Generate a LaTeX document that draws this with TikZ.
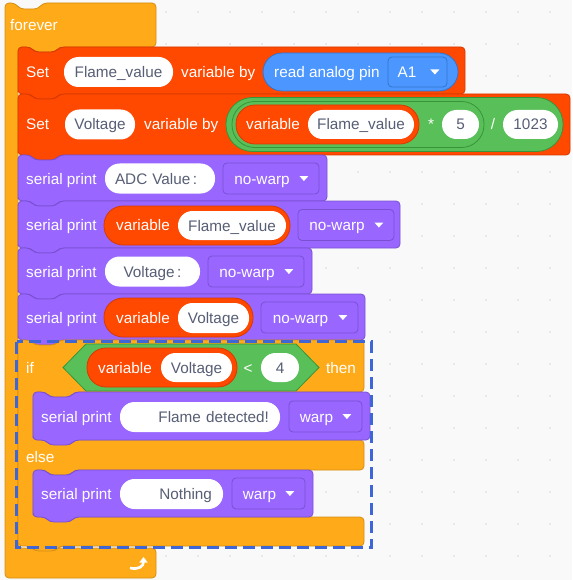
\documentclass[tikz,border=0pt]{standalone}
\usepackage{fontspec}
\setmainfont{Liberation Sans}
\usetikzlibrary{arrows.meta}
\definecolor{scbg}{RGB}{249,249,249}
\definecolor{scdot}{RGB}{218,218,218}
\definecolor{scctl}{RGB}{255,171,25}
\definecolor{scctlbd}{RGB}{214,142,20}
\definecolor{scvar}{RGB}{255,72,0}
\definecolor{scvarbd}{RGB}{214,58,0}
\definecolor{scpur}{RGB}{153,102,255}
\definecolor{scpurbd}{RGB}{122,80,210}
\definecolor{scgrn}{RGB}{89,192,89}
\definecolor{scgrnbd}{RGB}{56,148,56}
\definecolor{scblu}{RGB}{76,151,255}
\definecolor{scblubd}{RGB}{51,115,204}
\definecolor{sctxt}{RGB}{87,94,117}
\definecolor{scsel}{RGB}{62,102,214}
\tikzset{
  blk/.style={line width=0.8pt, rounded corners=4pt},
  ctlblk/.style={blk, fill=scctl, draw=scctlbd},
  varblk/.style={blk, fill=scvar, draw=scvarbd},
  spblk/.style={blk, fill=scpur, draw=scpurbd},
  lbl/.style={text=white, inner sep=0pt, anchor=west, text height=11pt, text depth=0pt},
  oplbl/.style={text=white, inner sep=0pt, text height=11pt, text depth=0pt},
  wpill/.style={fill=white, text=sctxt, inner sep=0pt, minimum height=30pt,
    rounded corners=14.5pt, text height=11pt, text depth=0pt},
  vpill/.style={fill=scvar, draw=scvarbd, line width=0.8pt, inner sep=0pt,
    minimum height=39pt, rounded corners=19pt},
  ddbox/.style={fill=scpur, draw=scpurbd, line width=0.8pt, rounded corners=4pt,
    text=white, inner sep=0pt, minimum height=31pt, text height=11pt, text depth=0pt},
  selbox/.style={draw=scsel, line width=3pt, dash pattern=on 12pt off 6pt}
}
% stack block: style, left, top, right, bottom
\newcommand{\stackblk}[5]{%
  \draw[#1] (#2,#5-6) -- (#2,#3) -- (#2+12,#3) -- (#2+17,#3+5) -- (#2+37,#3+5)
    -- (#2+42,#3) -- (#4,#3) -- (#4,#5) -- (#2+42,#5) -- (#2+37,#5+5)
    -- (#2+17,#5+5) -- (#2+12,#5) -- (#2,#5) -- cycle;}
% dropdown arrow
\newcommand{\ddtri}[2][20]{%
  \fill[white] ([xshift=-#1pt,yshift=2.5pt]#2.east) -- ++(9,0) -- ++(-4.5,5) -- cycle;}

\begin{document}
\begin{tikzpicture}[x=1pt,y=-1pt,font=\fontsize{15.3}{18}\selectfont]
  \fill[scbg] (0,0) rectangle (572,580);
  \useasboundingbox (0,0) rectangle (572,580);
  \foreach \i in {0,...,17}
    \foreach \j in {0,...,17}
      \fill[scdot] (6+32*\i,12+32*\j) circle (0.9pt);

  % forever
  \draw[ctlblk] (5,300) -- (5,3) -- (15,3) -- (20,9) -- (38,9) -- (43,3) -- (156,3)
    -- (156,47) -- (60,47) -- (55,52) -- (35,52) -- (30,47) -- (18,47) -- (18,548)
    -- (156,548) -- (156,578) -- (5,578) -- cycle;
  \node[lbl] (forever) at (10,25.5) {forever};
  \draw[white, line width=2.6pt, -{Triangle[length=5.5pt,width=8pt]}]
    (130,568) .. controls (139,570) and (143.5,566) .. (143.5,557);

  % set Flame_value
  \stackblk{varblk}{18}{47}{465}{94}
  \node[lbl] (set1) at (26,72) {Set};
  \node[wpill, minimum width=109pt] (fv1) at (118.5,72) {Flame\_value};
  \node[lbl] (by1) at (181,72) {variable by};
  \node[fill=scblu, draw=scblubd, line width=0.8pt, inner sep=0pt, minimum width=195pt,
    minimum height=38pt, rounded corners=19pt] (rdpin) at (360.5,72) {};
  \node[lbl] (rdtxt) at (274,72) {read analog pin};
  \node[ddbox, fill=scblu, draw=scblubd, minimum width=59pt, minimum height=30pt]
    (pin) at (417.5,72) {A1\hspace*{21pt}};
  \ddtri[17]{pin}

  % set Voltage
  \stackblk{varblk}{18}{94}{570}{155}
  \node[lbl] (set2) at (26,124.5) {Set};
  \node[wpill, minimum width=70pt] (volt1) at (100,124.5) {Voltage};
  \node[lbl] (by2) at (144,124.5) {variable by};
  \node[fill=scgrn, draw=scgrnbd, line width=0.8pt, inner sep=0pt, minimum width=337pt,
    minimum height=54pt, rounded corners=26.5pt] (opdiv) at (394.5,124.5) {};
  \node[fill=scgrn, draw=scgrnbd, line width=0.8pt, inner sep=0pt, minimum width=252pt,
    minimum height=46pt, rounded corners=22.5pt] (opmul) at (358,124.5) {};
  \node[vpill, minimum width=183pt] (var1) at (327.5,124.5) {};
  \node[lbl] (var1t) at (246,124.5) {variable};
  \node[wpill, minimum width=106pt, minimum height=29pt] (fv2) at (361,124.5) {Flame\_value};
  \node[oplbl] (mul) at (431,124.5) {*};
  \node[wpill, minimum width=37pt, minimum height=29pt] (five) at (460.5,124.5) {5};
  \node[oplbl] (div) at (493,124.5) {/};
  \node[wpill, minimum width=55pt, minimum height=29pt] (k1023) at (530.5,124.5) {1023};

  % serial prints
  \stackblk{spblk}{18}{155}{327}{201}
  \node[lbl] (sp1) at (26,178.5) {serial print};
  \node[wpill, minimum width=110pt, text width=90pt, align=left] (adc) at (160,178.5)
    {ADC Value\,:};
  \node[ddbox, minimum width=96pt] (dd1) at (271,178.5) {no-warp\hspace*{18pt}};
  \ddtri{dd1}

  \stackblk{spblk}{18}{201}{400}{248}
  \node[lbl] (sp2) at (26,225) {serial print};
  \node[vpill, minimum width=186pt] (var2) at (197,225.5) {};
  \node[lbl] (var2t) at (116,225) {variable};
  \node[wpill, minimum width=108pt, minimum height=29pt] (fv3) at (232,225.5) {Flame\_value};
  \node[ddbox, minimum width=96pt] (dd2) at (346,225) {no-warp\hspace*{18pt}};
  \ddtri{dd2}

  \stackblk{spblk}{18}{248}{312}{294}
  \node[lbl] (sp3) at (26,271.5) {serial print};
  \node[wpill, minimum width=95pt] (volt2) at (152.5,271.5) {Voltage\,:};
  \node[ddbox, minimum width=96pt] (dd3) at (256,271.5) {no-warp\hspace*{18pt}};
  \ddtri{dd3}

  \stackblk{spblk}{18}{294}{365}{340}
  \node[lbl] (sp4) at (26,317.5) {serial print};
  \node[vpill, minimum width=149pt] (var3) at (178.5,317.5) {};
  \node[lbl] (var3t) at (116,317.5) {variable};
  \node[wpill, minimum width=71pt] (volt3) at (213.5,318) {Voltage};
  \node[ddbox, minimum width=97pt] (dd4) at (309.5,317.5) {no-warp\hspace*{18pt}};
  \ddtri{dd4}

  % if / else
  \draw[ctlblk] (18,450) -- (18,340) -- (30,340) -- (35,345) -- (55,345) -- (60,340)
    -- (364,340) -- (364,392) -- (75,392) -- (70,397) -- (50,397) -- (45,392)
    -- (33,392) -- (33,440) -- (364,440) -- (364,470) -- (75,470) -- (70,475)
    -- (50,475) -- (45,470) -- (33,470) -- (33,517) -- (364,517) -- (364,546)
    -- (60,546) -- (55,551) -- (35,551) -- (30,546) -- (18,546) -- cycle;
  \node[lbl] (if) at (26,367.5) {if};
  \draw[fill=scgrn, draw=scgrnbd, line width=0.8pt] (63,367.5) -- (86,344) -- (296,344)
    -- (319,367.5) -- (296,391) -- (86,391) -- cycle;
  \node[vpill, minimum width=150pt] (var4) at (162,367.5) {};
  \node[lbl] (var4t) at (98,367.5) {variable};
  \node[wpill, minimum width=71pt, minimum height=29pt] (volt4) at (196.5,367.5) {Voltage};
  \node[oplbl] (lt) at (248,367.5) {<};
  \node[wpill, minimum width=38pt, minimum height=29pt] (four) at (280,367.5) {4};
  \node[lbl] (then) at (326,367.5) {then};

  \stackblk{spblk}{33}{392}{370}{440}
  \node[lbl] (sp5) at (41,416.5) {serial print};
  \node[wpill, minimum width=160pt, text width=138pt, align=right] (flame) at (200,417)
    {Flame detected!};
  \node[ddbox, minimum width=73pt] (dd5) at (325.5,416.5) {warp\hspace*{18pt}};
  \ddtri{dd5}

  \node[lbl] (else) at (26,456.5) {else};

  \stackblk{spblk}{33}{470}{313}{517}
  \node[lbl] (sp6) at (41,493.5) {serial print};
  \node[wpill, minimum width=103pt, text width=81pt, align=right] (nothing) at (171.5,494)
    {Nothing};
  \node[ddbox, minimum width=73pt] (dd6) at (268.5,493.5) {warp\hspace*{18pt}};
  \ddtri{dd6}

  % selection
  \draw[selbox] (16.5,341.5) rectangle (371.5,547.5);
\end{tikzpicture}
\end{document}
